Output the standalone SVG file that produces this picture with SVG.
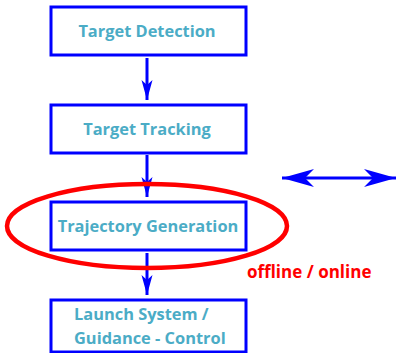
<svg xmlns="http://www.w3.org/2000/svg" width="398" height="353" viewBox="0 0 398 353">
<style>
.box{fill:#fff;stroke:#0000ff;stroke-width:3}
.lbl{font-family:"Open Sans","Liberation Sans",Arial,sans-serif;font-weight:bold;font-size:16.4px;fill:#4bacc6}
.conn{stroke:#0000ff;stroke-width:3;fill:none}
</style>
<defs>
<marker id="ah" markerUnits="userSpaceOnUse" markerWidth="20" markerHeight="12" refX="20" refY="6" orient="auto" viewBox="0 0 20 12">
<path d="M0,0.5 L20,6 L0,11.5 L5,6 Z" fill="#0000ff"/>
</marker>
<marker id="bh" markerUnits="userSpaceOnUse" markerWidth="32" markerHeight="20" refX="32" refY="10" orient="auto" viewBox="0 0 32 20">
<path d="M0,1 L32,10 L0,19 L9,10 Z" fill="#0000ff"/>
</marker>
<marker id="bt" markerUnits="userSpaceOnUse" markerWidth="32" markerHeight="20" refX="32" refY="10" orient="auto-start-reverse" viewBox="0 0 32 20">
<path d="M0,1 L32,10 L0,19 L9,10 Z" fill="#0000ff"/>
</marker>
</defs>
<rect width="398" height="353" fill="#fff"/>
<g id="connectors">
<line class="conn" x1="147" y1="58" x2="147" y2="100" marker-end="url(#ah)"/>
<line class="conn" x1="147" y1="155" x2="147" y2="197" marker-end="url(#ah)"/>
<line class="conn" x1="147" y1="253" x2="147" y2="295" marker-end="url(#ah)"/>
</g>
<g id="target-detection">
<rect class="box" x="51" y="7" width="195" height="48"/>
<text class="lbl" x="147" y="37" text-anchor="middle">Target Detection</text>
</g>
<g id="target-tracking">
<rect class="box" x="51" y="105" width="195" height="48"/>
<text class="lbl" x="147" y="135" text-anchor="middle">Target Tracking</text>
</g>
<g id="trajectory-generation">
<rect class="box" x="51" y="202" width="195" height="48"/>
<text class="lbl" x="148" y="232" text-anchor="middle">Trajectory Generation</text>
</g>
<g id="launch-system">
<rect class="box" x="51" y="300" width="195" height="52"/>
<text class="lbl" x="74" y="320">Launch System /</text>
<text class="lbl" x="74" y="344">Guidance - Control</text>
</g>
<g id="offline-online">
<ellipse cx="147" cy="226" rx="140" ry="42" fill="none" stroke="#ff0000" stroke-width="4.5"/>
<text x="247" y="278" font-family="Open Sans,Liberation Sans,Arial,sans-serif" font-weight="bold" font-size="17" fill="#ff0000">offline / online</text>
</g>
<g id="double-arrow">
<line class="conn" x1="282" y1="178" x2="396" y2="178" stroke-width="4" marker-start="url(#bt)" marker-end="url(#bh)"/>
</g>
</svg>
